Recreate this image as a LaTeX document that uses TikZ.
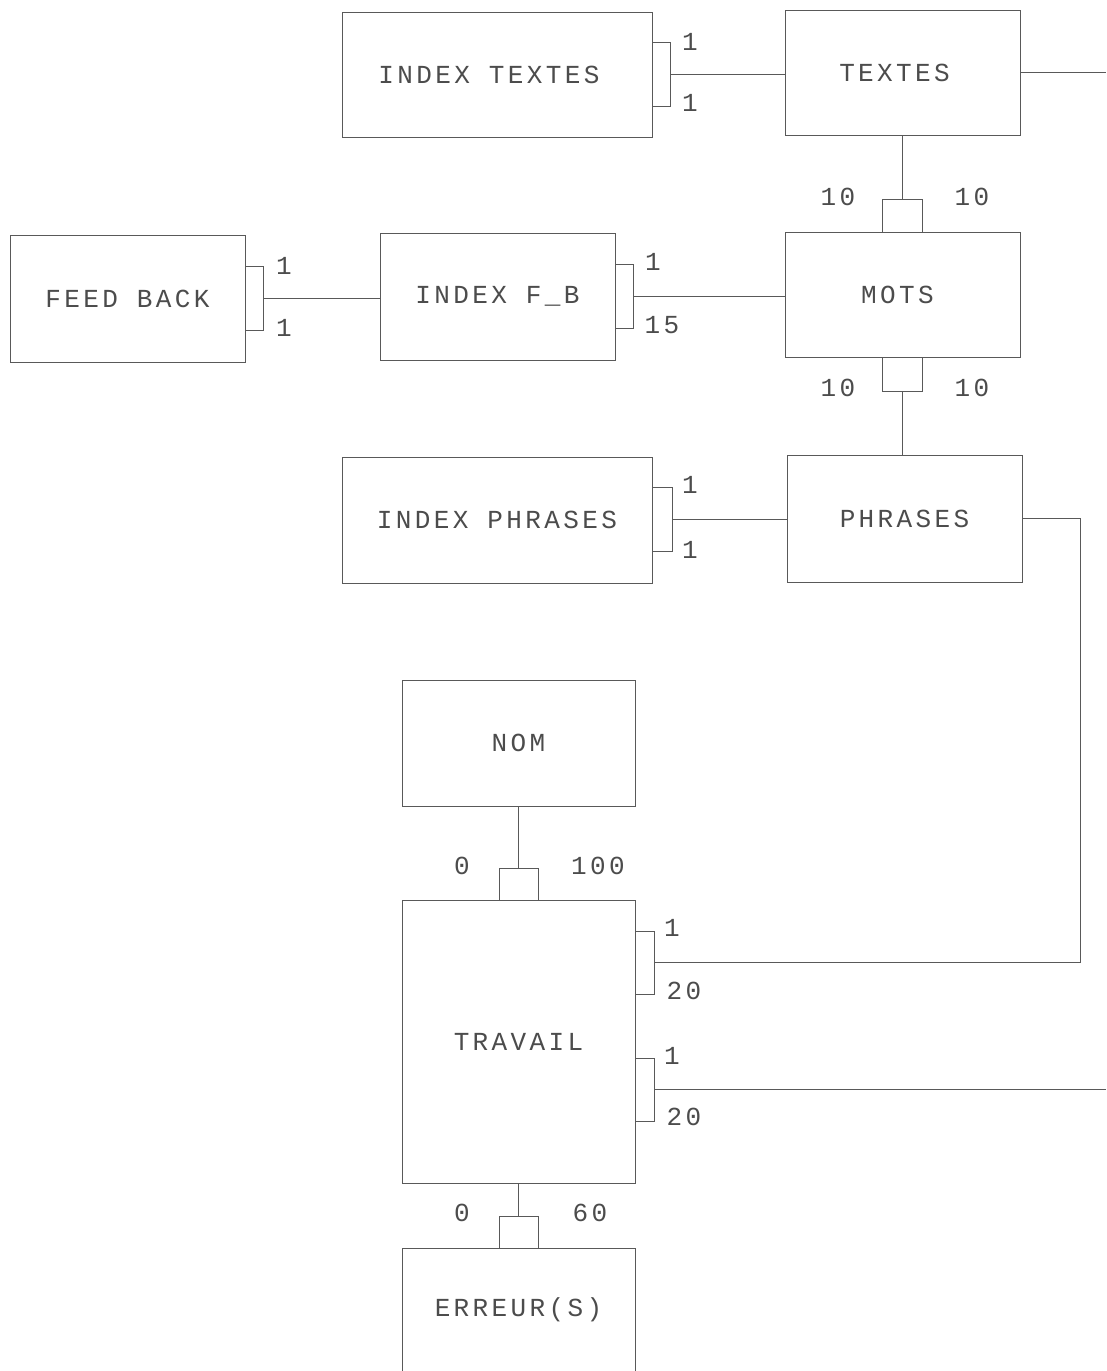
\documentclass[tikz,border=0pt]{standalone}
\usepackage{fontspec}
\newfontfamily\dmfont[LetterSpace=13]{Liberation Mono}
\usetikzlibrary{calc}
\begin{document}
\begin{tikzpicture}[x=1pt,y=-1pt,
  ln/.style={draw=black!65,line width=1pt},
  box/.style={ln,rectangle,inner sep=0pt,font=\dmfont\fontsize{26}{26}\selectfont,text=black!70},
  lbl/.style={inner sep=0pt,font=\dmfont\fontsize{26}{26}\selectfont,text=black!70}]
\clip (0,0) rectangle (1106,1371);
\fill[white] (0,0) rectangle (1106,1371);
% boxes
\node[box,minimum width=310pt,minimum height=125pt] (it) at (497,74.5) {\kern-16pt INDEX TEXTES};
\node[box,minimum width=235pt,minimum height=125pt] (tx) at (902.5,72.5) {\kern-16pt TEXTES};
\node[box,minimum width=235pt,minimum height=127pt] (fb) at (127.5,298.5) {FEED BACK};
\node[box,minimum width=235pt,minimum height=127pt] (ifb) at (497.5,296.5) {INDEX F\_B};
\node[box,minimum width=235pt,minimum height=125pt] (mo) at (902.5,294.5) {\kern-10pt MOTS};
\node[box,minimum width=310pt,minimum height=126pt] (ip) at (497,520) {INDEX PHRASES};
\node[box,minimum width=235pt,minimum height=127pt] (ph) at (904.5,518.5) {PHRASES};
\node[box,minimum width=233pt,minimum height=126pt] (nom) at (518.5,743) {NOM};
\node[box,minimum width=233pt,minimum height=283pt] (tr) at (518.5,1041.5) {TRAVAIL};
\node[box,minimum width=233pt,minimum height=136pt,text depth=0pt] (er) at (518.5,1316) {};
\node[lbl] (ert) at (518.5,1310) {ERREUR(S)};
% INDEX TEXTES -- TEXTES
\coordinate (b1) at ($(it.east)+(18,0)$);
\draw[ln] ($(it.east)+(0,-32)$) -- ++(18,0) -- ++(0,64) -- ++(-18,0);
\draw[ln] (b1) -- (b1 -| tx.west);
\node[lbl] (l1a) at (690,42) {1};
\node[lbl] (l1b) at (690,103) {1};
% TEXTES out right
\coordinate (txo) at (1106,72.5);
\draw[ln] (tx.east) -- (txo);
% FEED BACK -- INDEX F_B
\coordinate (b2) at ($(fb.east)+(18,0)$);
\draw[ln] ($(fb.east)+(0,-32)$) -- ++(18,0) -- ++(0,64) -- ++(-18,0);
\draw[ln] (b2) -- (b2 -| ifb.west);
\node[lbl] (l2a) at (284,266) {1};
\node[lbl] (l2b) at (284,328) {1};
% INDEX F_B -- MOTS
\coordinate (b3) at ($(ifb.east)+(18,0)$);
\draw[ln] ($(ifb.east)+(0,-32)$) -- ++(18,0) -- ++(0,64) -- ++(-18,0);
\draw[ln] (b3) -- (b3 -| mo.west);
\node[lbl] (l3a) at (653,262) {1};
\node[lbl] (l3b) at (662,325) {15};
% TEXTES -- MOTS
\coordinate (c1) at ($(mo.north)+(0,-32)$);
\draw[ln] ($(mo.north)+(-20,0)$) -- ++(0,-32) -- ++(40,0) -- ++(0,32);
\draw[ln] (tx.south) -- (c1);
\node[lbl] (l4a) at (838,197) {10};
\node[lbl] (l4b) at (972,197) {10};
% MOTS -- PHRASES
\coordinate (c2) at ($(mo.south)+(0,34)$);
\draw[ln] ($(mo.south)+(-20,0)$) -- ++(0,34) -- ++(40,0) -- ++(0,-34);
\draw[ln] (c2) -- (c2 |- ph.north);
\node[lbl] (l5a) at (838,388) {10};
\node[lbl] (l5b) at (972,388) {10};
% INDEX PHRASES -- PHRASES
\coordinate (b4) at ($(ip.east)+(20,-1)$);
\draw[ln] ($(ip.east)+(0,-33)$) -- ++(20,0) -- ++(0,64) -- ++(-20,0);
\draw[ln] (b4) -- (b4 -| ph.west);
\node[lbl] (l6a) at (690,485) {1};
\node[lbl] (l6b) at (690,550) {1};
% NOM -- TRAVAIL
\coordinate (c3) at ($(tr.north)+(0,-31)$);
\draw[ln] ($(tr.north)+(-19.5,0)$) -- ++(0,-31) -- ++(39,0) -- ++(0,31);
\draw[ln] (nom.south) -- (c3);
\node[lbl] (l7a) at (462,866) {0};
\node[lbl] (l7b) at (598,866) {100};
% TRAVAIL -- ERREUR(S)
\coordinate (c4) at ($(er.north)+(0,-31)$);
\draw[ln] ($(er.north)+(-19.5,0)$) -- ++(0,-31) -- ++(39,0) -- ++(0,31);
\draw[ln] (tr.south) -- (c4);
\node[lbl] (l8a) at (462,1213) {0};
\node[lbl] (l8b) at (590,1213) {60};
% TRAVAIL brackets
\coordinate (t1) at ($(tr.east |- 0,962)+(19,0)$);
\draw[ln] ($(tr.east |- 0,962)+(0,-31)$) -- ++(19,0) -- ++(0,63) -- ++(-19,0);
\coordinate (t2) at ($(tr.east |- 0,1089)+(19,0)$);
\draw[ln] ($(tr.east |- 0,1089)+(0,-31)$) -- ++(19,0) -- ++(0,63) -- ++(-19,0);
\node[lbl] (l9a) at (672,928) {1};
\node[lbl] (l9b) at (684,991) {20};
\node[lbl] (l10a) at (672,1056) {1};
\node[lbl] (l10b) at (684,1117) {20};
% PHRASES -- TRAVAIL
\coordinate (pk) at (1080,518.5);
\draw[ln] (ph.east) -- (pk) |- (t1);
\coordinate (tro) at (1106,1089);
\draw[ln] (t2) -- (tro);
\end{tikzpicture}
\end{document}
